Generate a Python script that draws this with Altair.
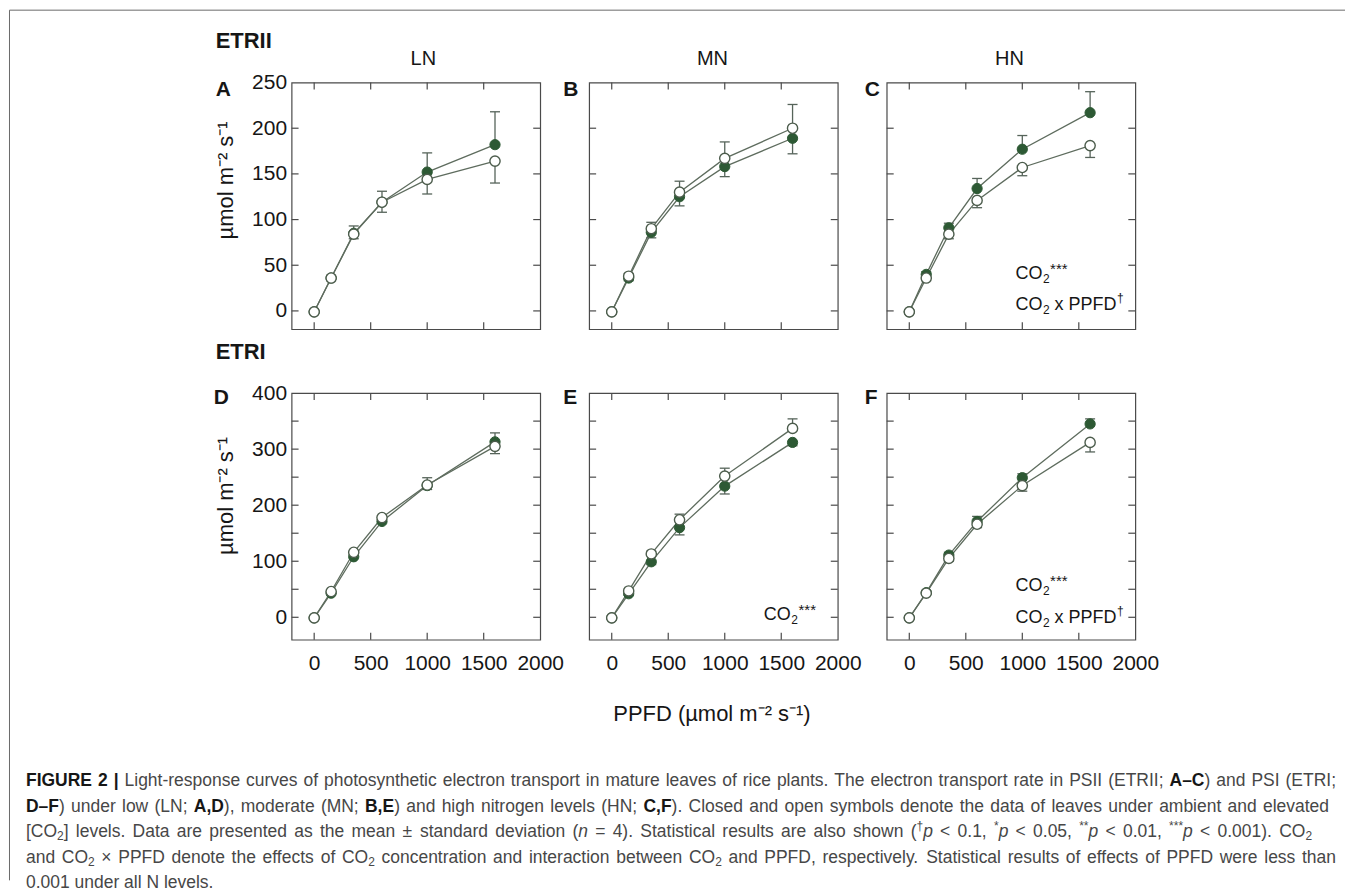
import altair as alt
import pandas as pd

# ---------------- data ----------------
PPFD = [0, 150, 350, 600, 1000, 1600]

# ETRII (top row)  closed = ambient [CO2], open = elevated [CO2]
A_closed = [-1, 36, 85, 119, 152, 182]
A_closed_sd = [0, 3, 8, 12, 21, 36]
A_open = [-1, 36, 84, 119, 144, 164]
A_open_sd = [0, 3, 5, 11, 16, 24]

B_closed = [-1, 36, 86, 125, 158, 189]
B_closed_sd = [0, 3, 6, 10, 11, 17]
B_open = [-1, 38, 90, 130, 167, 200]
B_open_sd = [0, 3, 7, 12, 18, 26]

C_closed = [-1, 40, 91, 134, 177, 217]
C_closed_sd = [0, 3, 5, 11, 15, 23]
C_open = [-1, 36, 84, 121, 157, 181]
C_open_sd = [0, 3, 5, 8, 9, 13]

# ETRI (bottom row)
D_closed = [-1, 43, 108, 171, 235, 313]
D_closed_sd = [0, 3, 5, 6, 14, 16]
D_open = [-1, 46, 116, 178, 236, 305]
D_open_sd = [0, 3, 5, 6, 8, 13]

E_closed = [-1, 42, 99, 160, 234, 312]
E_closed_sd = [0, 3, 5, 13, 14, 6]
E_open = [-1, 47, 113, 174, 252, 337]
E_open_sd = [0, 3, 5, 10, 14, 17]

F_closed = [-1, 44, 111, 171, 249, 345]
F_closed_sd = [0, 3, 5, 9, 7, 9]
F_open = [-1, 43, 105, 166, 235, 312]
F_open_sd = [0, 3, 5, 6, 10, 17]

# direction of the one-sided error bars (closed, open): +1 up, -1 down
ERR_DIR = {"A": (1, -1), "B": (-1, 1), "C": (1, -1),
           "D": (1, -1), "E": (-1, 1), "F": (1, -1)}

PANEL_DATA = {
    "A": (A_closed, A_closed_sd, A_open, A_open_sd),
    "B": (B_closed, B_closed_sd, B_open, B_open_sd),
    "C": (C_closed, C_closed_sd, C_open, C_open_sd),
    "D": (D_closed, D_closed_sd, D_open, D_open_sd),
    "E": (E_closed, E_closed_sd, E_open, E_open_sd),
    "F": (F_closed, F_closed_sd, F_open, F_open_sd),
}

X_DOMAIN = [-200, 2000]
Y_DOMAIN_TOP = [-20, 250]
Y_DOMAIN_BOTTOM = [-40, 400]
X_TICKS = [0, 500, 1000, 1500]
X_LABELS = [0, 500, 1000, 1500, 2000]
Y_TICKS_TOP = [0, 50, 100, 150, 200]
Y_LABELS_TOP = [0, 50, 100, 150, 200, 250]
Y_TICKS_BOTTOM = [0, 50, 100, 150, 200, 250, 300, 350]
Y_LABELS_BOTTOM = [0, 100, 200, 300, 400]

ROW_LABELS = ["ETRII", "ETRI"]
COL_LABELS = ["LN", "MN", "HN"]
PANEL_LETTERS = ["A", "B", "C", "D", "E", "F"]
Y_TITLE = "µmol m⁻² s⁻¹"
X_TITLE = "PPFD (µmol m⁻² s⁻¹)"

CAPTION = [
    [("b", "FIGURE 2 |"), ("r", " Light-response curves of photosynthetic electron transport in mature leaves of rice plants. The electron transport rate in PSII (ETRII; "), ("b", "A–C"), ("r", ") and PSI (ETRI;")],
    [("b", "D–F"), ("r", ") under low (LN; "), ("b", "A,D"), ("r", "), moderate (MN; "), ("b", "B,E"), ("r", ") and high nitrogen levels (HN; "), ("b", "C,F"), ("r", "). Closed and open symbols denote the data of leaves under ambient and elevated")],
    [("r", "[CO"), ("sub", "2"), ("r", "] levels. Data are presented as the mean ± standard deviation ("), ("i", "n"), ("r", " = 4). Statistical results are also shown ("), ("sup", "†"), ("i", "p"), ("r", " < 0.1, "), ("sup", "*"), ("i", "p"), ("r", " < 0.05, "), ("sup", "**"), ("i", "p"), ("r", " < 0.01, "), ("sup", "***"), ("i", "p"), ("r", " < 0.001). CO"), ("sub", "2")],
    [("r", "and CO"), ("sub", "2"), ("r", " × PPFD denote the effects of CO"), ("sub", "2"), ("r", " concentration and interaction between CO"), ("sub", "2"), ("r", " and PPFD, respectively. Statistical results of effects of PPFD were less than")],
    [("r", "0.001 under all N levels.")],
]

# ---------------- style ----------------
FONT = "Liberation Sans"
TXT = "#161616"
CAPCOL = "#474747"
FRAME = "#4a4a4a"
LINE = "#5e6c5e"
ERR = "#56645a"
CLOSED = "#2d5934"
OPEN_EDGE = "#4c5c4c"
W, H = 249, 247

# Arial / Liberation Sans advance widths (1/1000 em)
REG = {}
for chars, w in [(" !,./:;I[]ft", 278), ("ijl", 222), ("()-r", 333), ("*", 389),
                 ("0123456789abdeghnopqu$?_–†", 556), ("cksvxyzJ", 500),
                 ("ABEKPSVXY&", 667), ("CDHNRUw", 722), ("FTZ", 611), ("GOQ", 778),
                 ("L", 556), ("Mm", 833), ("W", 944), ("<=>+±×", 584), ("|", 260), ("µ", 577)]:
    for ch in chars:
        REG[ch] = w
BOLD = {}
for chars, w in [(" ,I", 278), ("|", 280), ("0123456789–", 556), ("ABCDRU", 722),
                 ("E", 667), ("F", 611), ("G", 778)]:
    for ch in chars:
        BOLD[ch] = w


def tw(s, size, bold=False):
    t = BOLD if bold else REG
    return sum(t.get(c, 556) for c in s) * size / 1000.0


# ---------------- panels ----------------
def panel_df(key):
    c, csd, o, osd = PANEL_DATA[key]
    dc, do = ERR_DIR[key]
    rows = []
    for i, x in enumerate(PPFD):
        rows.append(dict(ppfd=x, value=c[i], sd=csd[i], end=c[i] + dc * csd[i], series="closed"))
        rows.append(dict(ppfd=x, value=o[i], sd=osd[i], end=o[i] + do * osd[i], series="open"))
    return pd.DataFrame(rows)


def make_panel(key, row, col):
    df = panel_df(key)
    xs = alt.Scale(domain=X_DOMAIN, nice=False, zero=False)
    ys = alt.Scale(domain=Y_DOMAIN_TOP if row == 0 else Y_DOMAIN_BOTTOM, nice=False, zero=False)
    if row == 1:
        xaxis = alt.Axis(values=X_LABELS, title=None, ticks=False, tickSize=0, domain=False, grid=False,
                         labelFont=FONT, labelFontSize=21, labelColor=TXT, labelPadding=13,
                         labelFlush=False, labelOverlap=False, format="d")
    else:
        xaxis = None
    if col == 0:
        yaxis = alt.Axis(values=Y_LABELS_TOP if row == 0 else Y_LABELS_BOTTOM, title=None, ticks=False,
                         tickSize=0, domain=False, grid=False, labelFont=FONT, labelFontSize=21,
                         labelColor=TXT, labelPadding=5, labelFlush=False, labelOverlap=False, format="d")
    else:
        yaxis = None

    ex = alt.X("ppfd:Q", scale=xs, axis=xaxis)
    ey = alt.Y("value:Q", scale=ys, axis=yaxis)

    ty = pd.DataFrame({"v": Y_TICKS_TOP if row == 0 else Y_TICKS_BOTTOM})
    tx = pd.DataFrame({"v": X_TICKS})
    rule = dict(color=FRAME, strokeWidth=1.2)
    lt = alt.Chart(ty).mark_rule(**rule).encode(y=alt.Y("v:Q", scale=ys, axis=yaxis), x=alt.value(0), x2=alt.value(7))
    rt = alt.Chart(ty).mark_rule(**rule).encode(y=alt.Y("v:Q", scale=ys, axis=yaxis), x=alt.value(W - 7), x2=alt.value(W))
    tt = alt.Chart(tx).mark_rule(**rule).encode(x=alt.X("v:Q", scale=xs, axis=xaxis), y=alt.value(0), y2=alt.value(7))
    bt = alt.Chart(tx).mark_rule(**rule).encode(x=alt.X("v:Q", scale=xs, axis=xaxis), y=alt.value(H - 7), y2=alt.value(H))

    base = alt.Chart(df)
    lines = base.mark_line(color=LINE, strokeWidth=1.3).encode(x=ex, y=ey, detail="series:N")
    eb = base.transform_filter("datum.sd > 0").mark_rule(color=ERR, strokeWidth=1.3).encode(
        x=ex, y=ey, y2="end:Q")
    caps = base.transform_filter("datum.sd > 0").mark_tick(
        orient="horizontal", size=10, thickness=1.3, color=ERR, opacity=1).encode(
        x=ex, y=alt.Y("end:Q", scale=ys, axis=yaxis))
    closed = base.transform_filter("datum.series == 'closed'").mark_point(
        shape="circle", filled=True, size=105, fill=CLOSED, stroke=CLOSED, strokeWidth=1, opacity=1).encode(x=ex, y=ey)
    openp = base.transform_filter("datum.series == 'open'").mark_point(
        shape="circle", filled=True, size=105, fill="white", stroke=OPEN_EDGE, strokeWidth=1.4, opacity=1).encode(x=ex, y=ey)
    return alt.layer(lt, rt, tt, bt, lines, eb, caps, closed, openp).properties(width=W, height=H)


panels = []
for i, key in enumerate(PANEL_LETTERS):
    panels.append(make_panel(key, i // 3, i % 3))

# ---------------- overlay: free text in page coordinates ----------------
OX, OY = 291, 703  # page position of the overlay view origin
rows = []


def add(x, y, text, kind):
    rows.append(dict(x=x - OX, y=y - OY, text=text, kind=kind))


add(215, 39, ROW_LABELS[0], "hdr")
add(215, 351, ROW_LABELS[1], "hdr")
for (t, x) in zip(COL_LABELS, [423, 712.5, 1010]):
    add(x, 57, t, "col")
for (t, x, y) in zip(PANEL_LETTERS, [215, 563, 865, 213, 563, 865], [88, 88, 88, 397, 397, 397]):
    add(x, y, t, "let")
add(225, 179, Y_TITLE, "ytitle")
add(225, 495, Y_TITLE, "ytitle")
add(712, 713, X_TITLE, "xtitle")


def co2(x, y, stars=None, tail=False):
    wco = tw("CO", 18)
    w2 = tw("2", 12)
    add(x, y, "CO", "ann")
    add(x + wco + 0.5, y + 5, "2", "annsub")
    if stars:
        add(x + wco + w2 + 1, y - 5, stars, "annsup")
    if tail:
        xx = x + wco + 0.5 + w2 + tw(" ", 18)
        add(xx, y, "x PPFD", "ann")
        add(xx + tw("x PPFD", 18) + 0.5, y - 7, "†", "anndag")


co2(1016, 273, stars="***")
co2(1016, 304, tail=True)
co2(764, 614, stars="***")
co2(1016, 585, stars="***")
co2(1016, 617, tail=True)

# caption, justified like the reference
CAP_X0 = 25
CAP_BASE = [781, 806.5, 832, 857.5, 883]
CAP_END = [1337, 1330, 1313, 1337, None]
CS, SS = 17.5, 12


def piece_w(style, text):
    if style == "b":
        return tw(text, CS, bold=True)
    if style in ("sub", "sup"):
        return tw(text, SS)
    return tw(text, CS)


for li, runs in enumerate(CAPTION):
    words, cur = [], []
    for style, text in runs:
        parts = text.split(" ")
        for j, part in enumerate(parts):
            if j > 0 and cur:
                words.append(cur)
                cur = []
            if part:
                cur.append((style, part))
    if cur:
        words.append(cur)
    widths = [sum(piece_w(s, t) for s, t in wd) for wd in words]
    if CAP_END[li] is None or len(words) < 2:
        gap = tw(" ", CS)
    else:
        gap = max(2.0, (CAP_END[li] - CAP_X0 - sum(widths)) / (len(words) - 1))
    x = CAP_X0
    yb = CAP_BASE[li]
    for wd, wdw in zip(words, widths):
        xx = x
        for s, t in wd:
            kind = {"r": "cr", "b": "cb", "i": "ci", "sub": "csub", "sup": "csup"}[s]
            yy = yb + 4 if s == "sub" else (yb - 6.5 if s == "sup" else yb)
            add(xx, yy, t, kind)
            xx += piece_w(s, t)
        x += wdw + gap

odf = pd.DataFrame(rows)

KINDS = {
    "hdr": dict(fontSize=22, fontWeight="bold", align="left", color=TXT),
    "col": dict(fontSize=20, align="center", color=TXT),
    "let": dict(fontSize=21, fontWeight="bold", align="left", color=TXT),
    "ytitle": dict(fontSize=22, align="center", baseline="middle", angle=270, color=TXT),
    "xtitle": dict(fontSize=22, align="center", color=TXT),
    "ann": dict(fontSize=18, align="left", color=TXT),
    "annsub": dict(fontSize=12, align="left", color=TXT),
    "annsup": dict(fontSize=15, align="left", color=TXT),
    "anndag": dict(fontSize=12, align="left", color=TXT),
    "cr": dict(fontSize=CS, align="left", color=CAPCOL),
    "cb": dict(fontSize=CS, fontWeight="bold", align="left", color=TXT),
    "ci": dict(fontSize=CS, fontStyle="italic", align="left", color=CAPCOL),
    "csub": dict(fontSize=SS, align="left", color=CAPCOL),
    "csup": dict(fontSize=SS, align="left", color=CAPCOL),
}

IDX = alt.Scale(domain=[0, 1000], range=[0, 1000], nice=False, zero=False)
IDY = alt.Scale(domain=[0, 1000], range=[0, 1000], nice=False, zero=False)

frame = pd.DataFrame([
    dict(x=8.5 - OX, x2=1346 - OX, y=8.5 - OY, y2=8.5 - OY),
    dict(x=8.5 - OX, x2=8.5 - OX, y=8.5 - OY, y2=880 - OY),
])
overlay_layers = [alt.Chart(frame).mark_rule(color="#6a6a6a", strokeWidth=1).encode(
    x=alt.X("x:Q", scale=IDX, axis=None), x2="x2:Q",
    y=alt.Y("y:Q", scale=IDY, axis=None), y2="y2:Q")]
for k, props in KINDS.items():
    overlay_layers.append(
        alt.Chart(odf).transform_filter(alt.datum.kind == k).mark_text(font=FONT, **props).encode(
            x=alt.X("x:Q", scale=IDX, axis=None),
            y=alt.Y("y:Q", scale=IDY, axis=None),
            text="text:N"))
overlay = alt.layer(*overlay_layers).properties(
    width=1, height=1, view=alt.ViewBackground(stroke="transparent"))

chart = alt.concat(*panels, overlay, columns=3, spacing={"row": 64, "column": 49},
                   bounds="flush").properties(
    padding=0, autosize=alt.AutoSizeParams(type="pad"), background="white"
).configure_view(stroke=FRAME, strokeWidth=1.2)

chart.save("out.html", embed_options={"renderer": "svg", "actions": False})
